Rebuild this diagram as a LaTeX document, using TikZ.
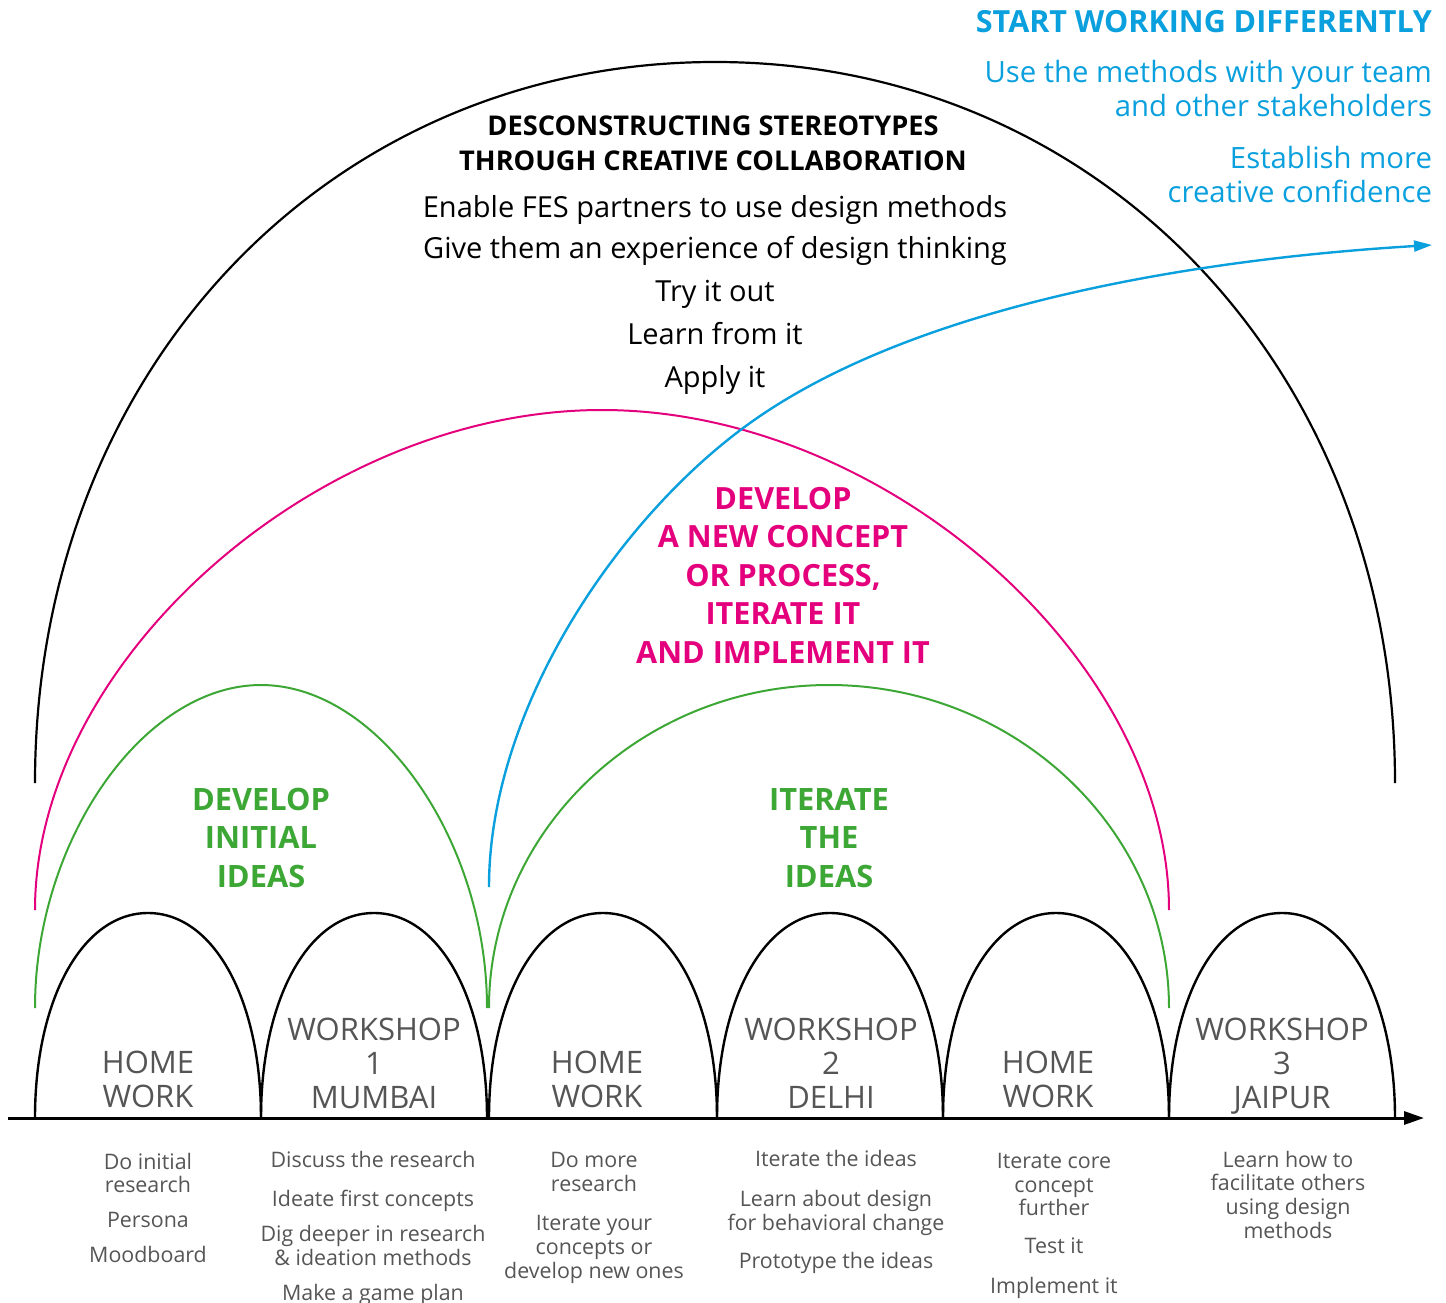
\documentclass[tikz,border=0pt]{standalone}
\usepackage{fontspec}
\setmainfont{Open Sans}
\usetikzlibrary{arrows.meta}

\definecolor{fesblue}{HTML}{0A9FDD}
\definecolor{fesmag}{HTML}{E4007D}
\definecolor{fesgreen}{HTML}{3DA736}
\definecolor{fesgray}{HTML}{555555}

% arch from (x0,base) to (x1,base) with crown at height "top";
% #5 sets how full the shoulders are (0.55 ~ half ellipse)
\newcommand{\archto}[5]{%
  ({#1},{#3}) .. controls ({#1},{#3-(#5)*(#3-#4)}) and ({(#1+#2)/2-(#5)*(#2-#1)/2},{#4}) .. ({(#1+#2)/2},{#4})
  .. controls ({(#1+#2)/2+(#5)*(#2-#1)/2},{#4}) and ({#2},{#3-(#5)*(#3-#4)}) .. ({#2},{#3})}

\begin{document}
\begin{tikzpicture}[x=1pt,y=-1pt,line join=round,
  phase/.style={draw=black,line width=2.4pt},
  bigarch/.style={draw=black,line width=2.2pt},
  magarch/.style={draw=fesmag,line width=2pt},
  greenarch/.style={draw=fesgreen,line width=2pt},
  axis/.style={draw=black,line width=3pt,-{Stealth[length=20pt,width=13pt,inset=0pt]}},
  flow/.style={draw=fesblue,line width=2.4pt,-{Stealth[length=18pt,width=11pt,inset=0pt]}},
  txt/.style={inner sep=0pt,outer sep=0pt,align=center,anchor=base},
  rtxt/.style={inner sep=0pt,outer sep=0pt,align=right,anchor=base east},
  bluehead/.style={rtxt,text=fesblue,font=\fontsize{30.5}{33}\selectfont\bfseries},
  bluebody/.style={rtxt,text=fesblue,font=\fontsize{29.3}{34}\selectfont},
  headline/.style={txt,font=\fontsize{27.2}{35}\selectfont\bfseries},
  goal/.style={txt,font=\fontsize{29}{30}\selectfont},
  magtxt/.style={txt,text=fesmag,font=\fontsize{30.6}{38.5}\selectfont\bfseries},
  greentxt/.style={txt,text=fesgreen,font=\fontsize{30.8}{38.5}\selectfont\bfseries},
  phasetxt/.style={txt,text=fesgray,font=\fontsize{31}{34}\selectfont},
  task/.style={txt,text=fesgray,font=\fontsize{21.4}{23.6}\selectfont}]
\useasboundingbox (0,0) rectangle (1446,1303);

% --- outer arch and its headline -------------------------------------
\draw[bigarch] \archto{35}{1395}{783}{62}{0.57};
\node[headline] (head) at (713,171) {DESCONSTRUCTING STEREOTYPES\\THROUGH CREATIVE COLLABORATION};
\node[goal] (g1) at (715,217) {Enable FES partners to use design methods};
\node[goal] (g2) at (715,258) {Give them an experience of design thinking};
\node[goal] (g3) at (715,301) {Try it out};
\node[goal] (g4) at (715,344) {Learn from it};
\node[goal] (g5) at (715,387) {Apply it};

% --- concept arch ------------------------------------------------------
\draw[magarch] \archto{35}{1169}{910}{410}{0.5};
\node[magtxt] (concept) at (783,663) {DEVELOP\\A NEW CONCEPT\\OR PROCESS,\\ITERATE IT\\AND IMPLEMENT IT};

% --- idea arches -------------------------------------------------------
\draw[greenarch] \archto{35}{487}{1008}{685}{0.52};
\draw[greenarch] \archto{489}{1169}{1008}{685}{0.55};
\node[greentxt] (ideas1) at (261,887) {DEVELOP\\INITIAL\\IDEAS};
\node[greentxt] (ideas2) at (829,887) {ITERATE\\THE\\IDEAS};

% --- blue outcome arrow -------------------------------------------------
\coordinate (flowstart) at (489,887);
\coordinate (flowmid) at (750,423);
\coordinate (flowend) at (1432,245);
\draw[flow] (flowstart) .. controls +(0,-180) and +(-130,93) .. (flowmid)
  .. controls +(160,-114.6) and +(-250,15) .. (flowend);
\node[bluehead] (start) at (1432,33) {START WORKING DIFFERENTLY};
\node[bluebody] (use) at (1432,117) {Use the methods with your team\\and other stakeholders};
\node[bluebody] (conf) at (1432,202) {Establish more\\creative confidence};

% --- phases along the time line ----------------------------------------
\foreach \a/\b in {35/261,261/487,489/717,717/943,943/1169,1169/1395}
  \draw[phase] \archto{\a}{\b}{1118}{913}{0.58};
\coordinate (tstart) at (8,1118);
\coordinate (tend) at (1424,1118);
\draw[axis] (tstart) -- (tend);

\node[phasetxt] (p1) at (148,1107) {HOME\\WORK};
\node[phasetxt] (p2) at (374,1108) {WORKSHOP\\1\\MUMBAI};
\node[phasetxt] (p3) at (597,1107) {HOME\\WORK};
\node[phasetxt] (p4) at (831,1108) {WORKSHOP\\2\\DELHI};
\node[phasetxt] (p5) at (1048,1107) {HOME\\WORK};
\node[phasetxt] (p6) at (1282,1108) {WORKSHOP\\3\\JAIPUR};

% --- activities per phase ----------------------------------------------
\node[task] (t1) at (148,1262) {Do initial\\research\\[11pt]Persona\\[11pt]Moodboard};
\node[task] (t2) at (373,1300) {Discuss the research\\[15pt]Ideate first concepts\\[12pt]Dig deeper in research\\\& ideation methods\\[11pt]Make a game plan};
\node[task] (t3) at (594,1278) {Do more\\research\\[16pt]Iterate your\\concepts or\\develop new ones};
\node[task] (t4) at (836,1268) {Iterate the ideas\\[17pt]Learn about design\\for behavioral change\\[14pt]Prototype the ideas};
\node[task] (t5) at (1054,1293) {Iterate core\\concept\\further\\[14pt]Test it\\[16pt]Implement it};
\node[task] (t6) at (1288,1238) {Learn how to\\facilitate others\\using design\\methods};
\end{tikzpicture}
\end{document}
